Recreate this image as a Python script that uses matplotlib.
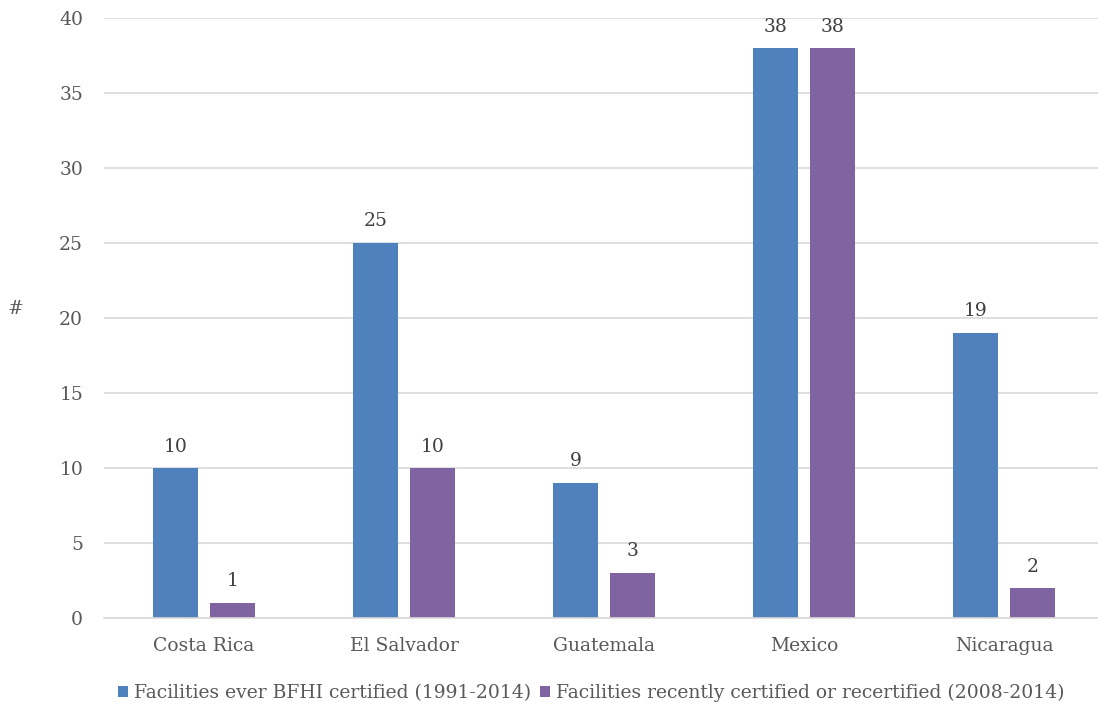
import matplotlib.pyplot as plt
import numpy as np

plt.rcParams['font.family'] = ['DejaVu Serif']

countries = ['Costa Rica', 'El Salvador', 'Guatemala', 'Mexico', 'Nicaragua']
ever_certified = [10, 25, 9, 38, 19]
recent_certified = [1, 10, 3, 38, 2]
series_names = ['Facilities ever BFHI certified (1991-2014)',
                'Facilities recently certified or recertified (2008-2014)']

W, H = 1098, 710
fig = plt.figure(figsize=(W / 100, H / 100), dpi=100)
ax = fig.add_axes([104 / W, (H - 618) / H, 1000 / W, 600 / H])

x = np.arange(len(countries))
bw = 0.225
off = 0.143
b1 = ax.bar(x - off, ever_certified, bw, color='#4F81BD', label=series_names[0])
b2 = ax.bar(x + off, recent_certified, bw, color='#8064A2', label=series_names[1])

for bars in (b1, b2):
    for r in bars:
        ax.annotate(str(int(r.get_height())), (r.get_x() + r.get_width() / 2, r.get_height()),
                    xytext=(0, 9), textcoords='offset points', ha='center', va='bottom',
                    fontsize=13.5, color='#404040')

ax.set_xlim(-0.5, 4.5)
ax.set_ylim(0, 40)
ax.set_yticks(range(0, 41, 5))
ax.set_xticks(x)
ax.set_xticklabels(countries)
ax.yaxis.grid(True, color='#D9D9D9', linewidth=1.2)
ax.set_axisbelow(True)
for s in ['top', 'right', 'left']:
    ax.spines[s].set_visible(False)
ax.spines['bottom'].set_color('#D9D9D9')
ax.spines['bottom'].set_linewidth(1.2)
ax.tick_params(axis='both', length=0, labelsize=13.5, colors='#595959')
ax.tick_params(axis='y', pad=15)
ax.tick_params(axis='x', pad=14)
ax.set_ylabel('#', rotation=0, fontsize=13.5, color='#595959')
ax.yaxis.set_label_coords(-0.089, 0.5)

fig.legend(handles=[b1, b2], loc='center', bbox_to_anchor=(591 / W, (H - 693) / H), ncol=2,
           frameon=False, fontsize=13.5, labelcolor='#595959', handlelength=0.55,
           handleheight=0.55, handletextpad=0.3, columnspacing=0.5)

fig.savefig('out.png', dpi=100)
